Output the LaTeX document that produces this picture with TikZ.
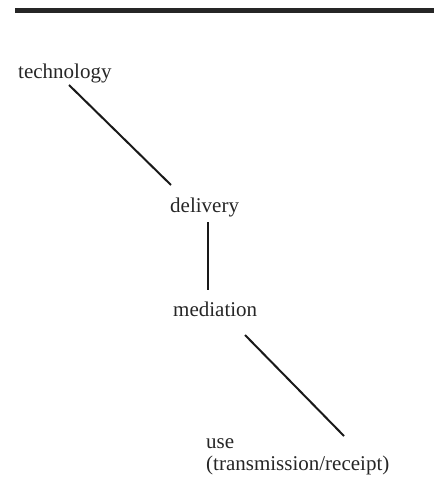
\documentclass[tikz,border=0pt]{standalone}
\usepackage{fontspec}
\setmainfont{Liberation Serif}
\tikzset{
  lbl/.style={anchor=base west, inner sep=0pt, font=\fontsize{21}{22}\selectfont, text=black!85},
  link/.style={line width=2pt, draw=black!90},
}
\begin{document}
\begin{tikzpicture}[x=1pt,y=-1pt]
\useasboundingbox (0,0) rectangle (434,481);
\fill[black!85] (15,8) rectangle (434,13.5);
\node[lbl] (tech) at (18,79) {technology};
\node[lbl] (deliv) at (170,212) {delivery};
\node[lbl] (med) at (173,316) {mediation};
\node[lbl, align=left] (use) at (206,470) {use\\(transmission/receipt)};
\coordinate (t1) at (69,85);
\coordinate (d0) at (171,185);
\coordinate (d1) at (208,222);
\coordinate (m0) at (208,290);
\coordinate (m1) at (245,335);
\coordinate (u0) at (344,436);
\draw[link] (t1) -- (d0);
\draw[link] (d1) -- (m0);
\draw[link] (m1) -- (u0);
\end{tikzpicture}
\end{document}
